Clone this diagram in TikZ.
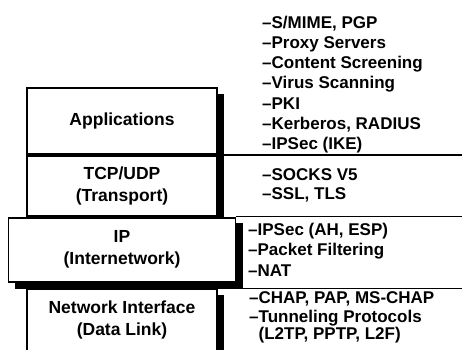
\documentclass[tikz,border=0pt]{standalone}
\usepackage{fontspec}
\setmainfont{Liberation Sans}
\usetikzlibrary{positioning, backgrounds}

\begin{document}
\begin{tikzpicture}[
    x=1pt, y=-1pt,
    node distance=0pt,
    layer/.style={rectangle, draw=black, line width=1.8pt, fill=white,
                  minimum width=190pt, align=center, inner sep=0pt,
                  font=\fontsize{17.5}{22}\selectfont\bfseries},
    shade/.style={fill=black},
    item/.style={anchor=base west, inner sep=0pt,
                 font=\fontsize{17}{20}\selectfont\bfseries},
    rule/.style={line width=1.5pt},
  ]
    \useasboundingbox (0,0) rectangle (464,349);
    \coordinate (edge) at (462,0);

    \node[layer, minimum height=66pt] (app) at (122,121) {Applications};
    \node[layer, minimum height=60pt, below=of app] (tcp) {TCP/UDP\\(Transport)};
    \node[layer, minimum height=64pt, minimum width=227pt, below=of tcp] (ip) {IP\\(Internetwork)};
    \node[layer, minimum height=61pt, below=6pt of ip] (ni) {Network Interface\\(Data Link)};

    % shadows behind the layers
    \begin{scope}[on background layer]
      \fill[shade] ([shift={(6pt,-7pt)}]app.north west) rectangle ([shift={(6pt,-7pt)}]tcp.south east);
      \fill[shade] ([shift={(7pt,-6pt)}]ip.north west) rectangle ([shift={(7pt,-6pt)}]ip.south east);
      \fill[shade] ([shift={(6pt,-6pt)}]ni.north west) rectangle ([shift={(6pt,-6pt)}]ni.south east);
    \end{scope}

    \draw[rule] (app.south east) -- (app.south east -| edge);
    \draw[rule] (ip.north east) -- (ip.north east -| edge);
    \draw[rule] (ni.north east) -- (ni.north east -| edge);

    \node[item] (a1) at (262,28) {–S/MIME, PGP};
    \node[item] (a2) at ([yshift=-20.3pt]a1.base west) {–Proxy Servers};
    \node[item] (a3) at ([yshift=-20.3pt]a2.base west) {–Content Screening};
    \node[item] (a4) at ([yshift=-20.3pt]a3.base west) {–Virus Scanning};
    \node[item] (a5) at ([yshift=-20.3pt]a4.base west) {–PKI};
    \node[item] (a6) at ([yshift=-20.3pt]a5.base west) {–Kerberos, RADIUS};
    \node[item] (a7) at ([yshift=-20.3pt]a6.base west) {–IPSec (IKE)};

    \node[item] (t1) at (262,180) {–SOCKS V5};
    \node[item] (t2) at ([yshift=-19pt]t1.base west) {–SSL, TLS};

    \node[item] (p1) at (248,235) {–IPSec (AH, ESP)};
    \node[item] (p2) at ([yshift=-20.5pt]p1.base west) {–Packet Filtering};
    \node[item] (p3) at ([yshift=-20.5pt]p2.base west) {–NAT};

    \node[item] (n1) at (249,303) {–CHAP, PAP, MS-CHAP};
    \node[item] (n2) at ([yshift=-19pt]n1.base west) {–Tunneling Protocols};
    \node[item] (n3) at ([yshift=-17pt]n2.base west) {\phantom{–}(L2TP, PPTP, L2F)};
  \end{tikzpicture}
\end{document}
